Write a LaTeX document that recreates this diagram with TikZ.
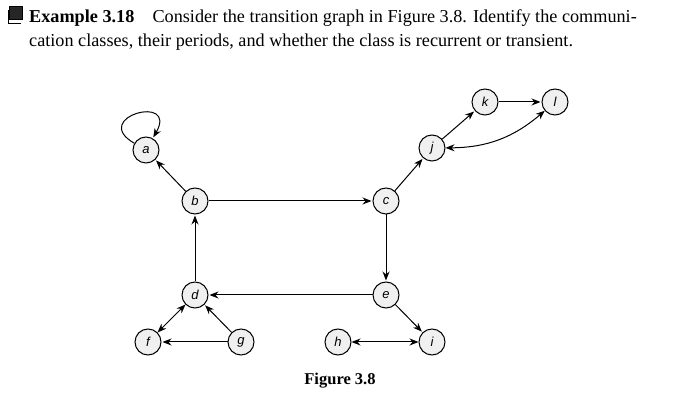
\documentclass[tikz,border=0pt]{standalone}
\usepackage{fontspec}
\setmainfont{Liberation Serif}
\setsansfont{Liberation Sans}
\usetikzlibrary{arrows.meta}
\begin{document}
\begin{tikzpicture}[x=1pt,y=-1pt,
  st/.style={circle,draw,fill=gray!12,minimum size=26pt,inner sep=0pt,font=\sffamily\itshape\fontsize{13}{15}\selectfont,line width=1pt},
  ar/.style={-{Stealth[length=9pt,width=7pt]},line width=1pt,shorten >=1pt},
  br/.style={{Stealth[length=9pt,width=7pt]}-{Stealth[length=9pt,width=7pt]},line width=1pt}]
\useasboundingbox (0,0) rectangle (693,411);
\node[draw,fill=black!85,minimum size=13pt,inner sep=0pt] (sq) at (16,13) {};
\draw[line width=0.9pt] (8,10) -- (8,23) -- (21,23);
\node[anchor=west,inner sep=0pt,font=\fontsize{18.2}{20}\selectfont] (t1) at (29,18) {\textbf{Example 3.18}\hspace{1em}Consider the transition graph in Figure 3.8. Identify the communi-};
\node[anchor=west,inner sep=0pt,font=\fontsize{18.2}{20}\selectfont] (t2) at (29,42) {cation classes, their periods, and whether the class is recurrent or transient.};
\node[font=\bfseries\fontsize{16.5}{18}\selectfont] (cap) at (340,381) {Figure 3.8};
\node[st] (a) at (146,150) {a};
\node[st] (b) at (195,201) {b};
\node[st] (c) at (386,201) {c};
\node[st] (d) at (195,295) {d};
\node[st] (e) at (386,295) {e};
\node[st] (f) at (148,342) {f};
\node[st] (g) at (241,342) {g};
\node[st] (h) at (338,342) {h};
\node[st] (i) at (432,342) {i};
\node[st] (j) at (432,148) {j};
\node[st] (k) at (485,102) {k};
\node[st] (l) at (555,102) {l};
\draw[ar] (a) to[out=150,in=60,looseness=7] (a);
\draw[ar] (b) -- (a);
\draw[ar] (b) -- (c);
\draw[ar] (c) -- (j);
\draw[ar] (c) -- (e);
\draw[ar] (e) -- (d);
\draw[ar] (d) -- (b);
\draw[br] (f) -- (d);
\draw[ar] (g) -- (f);
\draw[ar] (g) -- (d);
\draw[ar] (e) -- (i);
\draw[br] (h) -- (i);
\draw[ar] (j) -- (k);
\draw[ar] (k) -- (l);
\draw[br] (j) to[bend right=20] (l);
\end{tikzpicture}
\end{document}
